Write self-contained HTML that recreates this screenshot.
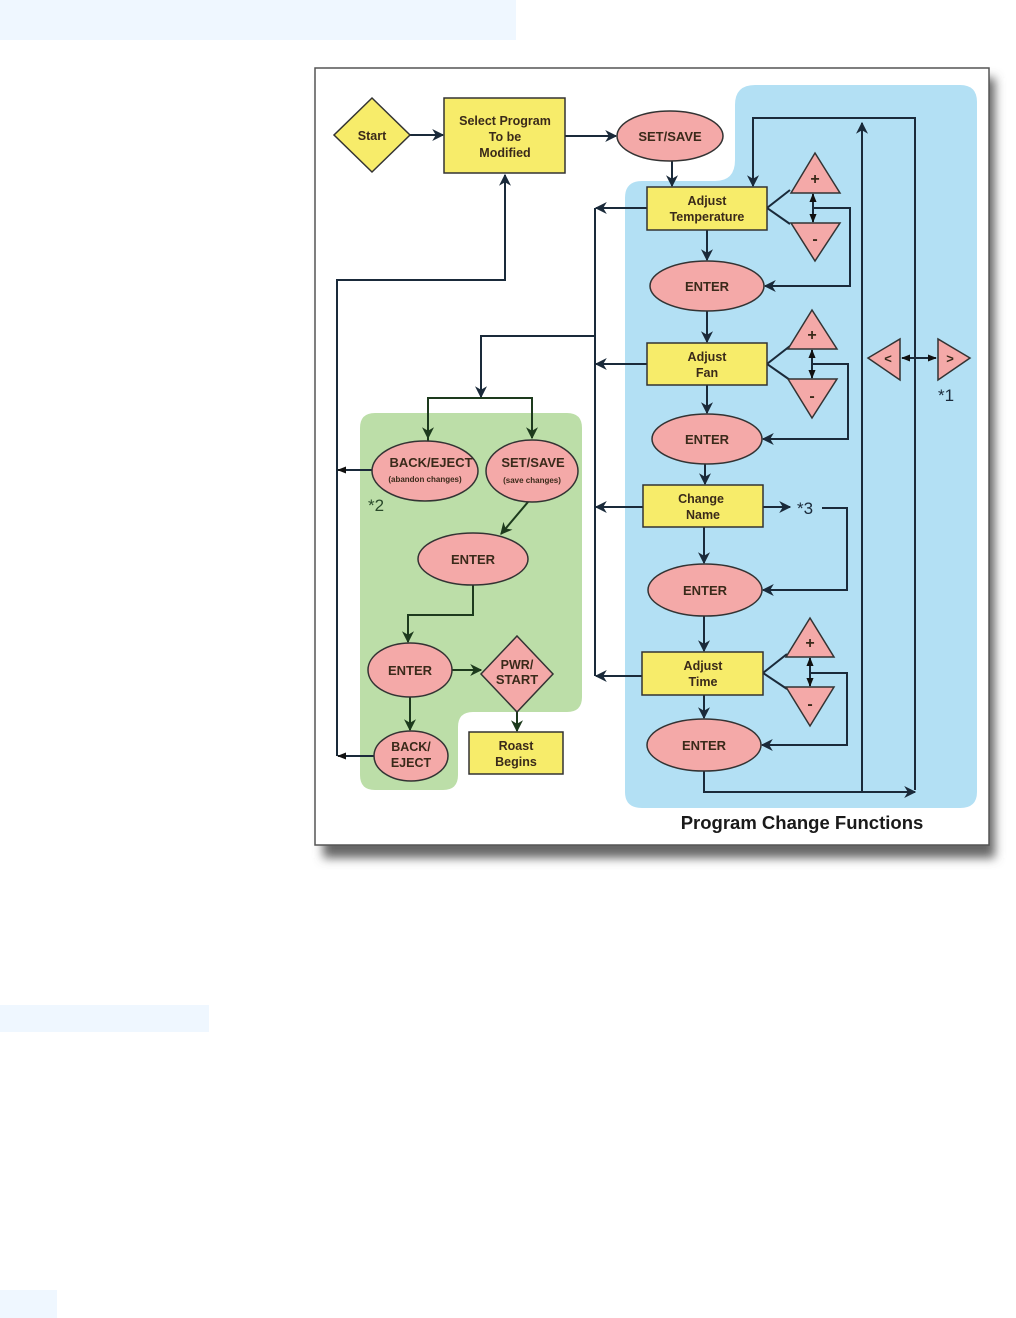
<!DOCTYPE html>
<html><head><meta charset="utf-8"><style>
html,body{margin:0;padding:0;background:#fff;}
svg{display:block;}
text{font-family:"Liberation Sans",sans-serif;font-weight:bold;fill:#3a2a1a;text-anchor:middle;}
</style></head><body>
<svg width="1016" height="1318" viewBox="0 0 1016 1318" xmlns="http://www.w3.org/2000/svg">
<defs>
<marker id="a" viewBox="0 0 10 10" refX="9" refY="5" markerWidth="12" markerHeight="12" orient="auto" markerUnits="userSpaceOnUse"><path d="M0,0 L10,5 L0,10 L3,5 Z" fill="#1a2a3a"/></marker>
<marker id="g" viewBox="0 0 10 10" refX="9" refY="5" markerWidth="12" markerHeight="12" orient="auto" markerUnits="userSpaceOnUse"><path d="M0,0 L10,5 L0,10 L3,5 Z" fill="#1d3a1d"/></marker>
<marker id="t" viewBox="0 0 10 10" refX="9" refY="5" markerWidth="9" markerHeight="9" orient="auto" markerUnits="userSpaceOnUse"><path d="M0,1 L10,5 L0,9 Z" fill="#111"/></marker>
<filter id="sh" x="-5%" y="-5%" width="115%" height="115%"><feGaussianBlur stdDeviation="5"/></filter>
</defs>
<rect x="0" y="0" width="516" height="40" fill="#eff7ff"/>
<rect x="0" y="1005" width="209" height="27" fill="#eff7ff"/>
<rect x="0" y="1290" width="57" height="28" fill="#eff7ff"/>
<rect x="323" y="78" width="672" height="780" fill="#666" filter="url(#sh)"/>
<rect x="315" y="68" width="674" height="777" fill="#fff" stroke="#555" stroke-width="1.5"/>
<path d="M755,85 H960 Q977,85 977,102 V792 Q977,808 960,808 H642 Q625,808 625,792 V198 Q625,181 642,181 H715 Q735,181 735,160 V105 Q735,85 755,85 Z" fill="#b3e0f4"/>
<path d="M375,413 H567 Q582,413 582,428 V697 Q582,712 567,712 H473 Q458,712 458,727 V775 Q458,790 443,790 H375 Q360,790 360,775 V428 Q360,413 375,413 Z" fill="#bcdea8"/>

<g stroke="#1a2a3a" stroke-width="2" fill="none">
<line x1="410" y1="135" x2="443" y2="135" marker-end="url(#a)"/>
<line x1="565" y1="136" x2="616" y2="136" marker-end="url(#a)"/>
<line x1="672" y1="161" x2="672" y2="186" marker-end="url(#a)"/>
<polyline points="337,756 337,280 505,280 505,175" marker-end="url(#a)"/>
<line x1="595" y1="208" x2="595" y2="676"/>
<line x1="647" y1="208" x2="596" y2="208" marker-end="url(#a)"/>
<line x1="647" y1="364" x2="596" y2="364" marker-end="url(#a)"/>
<line x1="643" y1="507" x2="596" y2="507" marker-end="url(#a)"/>
<line x1="642" y1="676" x2="596" y2="676" marker-end="url(#a)"/>
<polyline points="595,336 481,336 481,397" marker-end="url(#a)"/>
<line x1="707" y1="230" x2="707" y2="260" marker-end="url(#a)"/>
<line x1="707" y1="311" x2="707" y2="342" marker-end="url(#a)"/>
<line x1="707" y1="385" x2="707" y2="413" marker-end="url(#a)"/>
<line x1="705" y1="464" x2="705" y2="484" marker-end="url(#a)"/>
<line x1="704" y1="527" x2="704" y2="563" marker-end="url(#a)"/>
<line x1="704" y1="616" x2="704" y2="651" marker-end="url(#a)"/>
<line x1="704" y1="695" x2="704" y2="718" marker-end="url(#a)"/>
<polyline points="704,771 704,792 915,792" marker-end="url(#a)"/>
<line x1="862" y1="792" x2="862" y2="123" marker-end="url(#a)"/>
<polyline points="915,790 915,118 753,118 753,186" marker-end="url(#a)"/>
<polyline points="790,190 767,208 790,224"/>
<polyline points="813,208 850,208 850,286 765,286" marker-end="url(#a)"/>
<line x1="813" y1="208" x2="813" y2="194" marker-end="url(#t)"/>
<line x1="813" y1="208" x2="813" y2="222" marker-end="url(#t)"/>
<polyline points="790,346 767,364 790,380"/>
<polyline points="812,364 848,364 848,439 763,439" marker-end="url(#a)"/>
<line x1="812" y1="364" x2="812" y2="350" marker-end="url(#t)"/>
<line x1="812" y1="364" x2="812" y2="378" marker-end="url(#t)"/>
<line x1="763" y1="507" x2="790" y2="507" marker-end="url(#a)"/>
<polyline points="822,508 847,508 847,590 763,590" marker-end="url(#a)"/>
<polyline points="787,654 763,673 787,689"/>
<polyline points="810,673 847,673 847,745 762,745" marker-end="url(#a)"/>
<line x1="810" y1="673" x2="810" y2="658" marker-end="url(#t)"/>
<line x1="810" y1="673" x2="810" y2="686" marker-end="url(#t)"/>
<line x1="918" y1="358" x2="902" y2="358" marker-end="url(#t)"/>
<line x1="918" y1="358" x2="936" y2="358" marker-end="url(#t)"/>
<line x1="372" y1="470" x2="338" y2="470" marker-end="url(#t)"/>
<line x1="374" y1="756" x2="338" y2="756" marker-end="url(#t)"/>
</g>
<g stroke="#1d3a1d" stroke-width="2" fill="none">
<polyline points="428,446 428,398 532,398 532,438" marker-end="url(#g)"/>
<line x1="428" y1="398" x2="428" y2="438" marker-end="url(#g)"/>
<line x1="528" y1="502" x2="501" y2="534" marker-end="url(#g)"/>
<polyline points="473,585 473,615 408,615 408,642" marker-end="url(#g)"/>
<line x1="452" y1="670" x2="481" y2="670" marker-end="url(#g)"/>
<line x1="410" y1="697" x2="410" y2="730" marker-end="url(#g)"/>
<line x1="517" y1="711" x2="517" y2="731" marker-end="url(#g)"/>
</g>

<g stroke="#333" stroke-width="1.5">
<polygon points="372,98 410,135 372,172 334,135" fill="#f7ec6a"/>
<rect x="444" y="98" width="121" height="75" fill="#f7ec6a"/>
<ellipse cx="670" cy="136" rx="53" ry="25" fill="#f4a9a8"/>
<rect x="647" y="187" width="120" height="43" fill="#f7ec6a"/>
<polygon points="815,153 840,193 791,193" fill="#f4a9a8"/>
<polygon points="791,223 840,223 815,261" fill="#f4a9a8"/>
<ellipse cx="707" cy="286" rx="57" ry="25" fill="#f4a9a8"/>
<rect x="647" y="343" width="120" height="42" fill="#f7ec6a"/>
<polygon points="812,310 837,349 788,349" fill="#f4a9a8"/>
<polygon points="788,379 837,379 812,418" fill="#f4a9a8"/>
<ellipse cx="707" cy="439" rx="55" ry="25" fill="#f4a9a8"/>
<rect x="643" y="485" width="120" height="42" fill="#f7ec6a"/>
<ellipse cx="705" cy="590" rx="57" ry="26" fill="#f4a9a8"/>
<rect x="642" y="652" width="121" height="43" fill="#f7ec6a"/>
<polygon points="810,618 834,657 786,657" fill="#f4a9a8"/>
<polygon points="786,687 834,687 810,726" fill="#f4a9a8"/>
<ellipse cx="704" cy="745" rx="57" ry="26" fill="#f4a9a8"/>
<polygon points="868,358 900,339 900,380" fill="#f4a9a8"/>
<polygon points="938,339 938,380 970,358" fill="#f4a9a8"/>
<ellipse cx="425" cy="471" rx="53" ry="30" fill="#f4a9a8"/>
<ellipse cx="532" cy="471" rx="46" ry="31" fill="#f4a9a8"/>
<ellipse cx="473" cy="559" rx="55" ry="26" fill="#f4a9a8"/>
<ellipse cx="410" cy="670" rx="42" ry="27" fill="#f4a9a8"/>
<polygon points="517,636 553,674 517,712 481,674" fill="#f4a9a8"/>
<rect x="469" y="732" width="94" height="42" fill="#f7ec6a"/>
<ellipse cx="411" cy="756" rx="37" ry="25" fill="#f4a9a8"/>
</g>

<g font-size="12.5">
<text x="372" y="140">Start</text>
<text x="505" y="125">Select Program</text>
<text x="505" y="141">To be</text>
<text x="505" y="157">Modified</text>
<text x="670" y="141" font-size="13">SET/SAVE</text>
<text x="707" y="205">Adjust</text>
<text x="707" y="221">Temperature</text>
<text x="815" y="184" font-size="16">+</text>
<text x="815" y="244" font-size="16">-</text>
<text x="707" y="291" font-size="13">ENTER</text>
<text x="707" y="361">Adjust</text>
<text x="707" y="377">Fan</text>
<text x="812" y="340" font-size="16">+</text>
<text x="812" y="401" font-size="16">-</text>
<text x="707" y="444" font-size="13">ENTER</text>
<text x="701" y="503">Change</text>
<text x="703" y="519">Name</text>
<text x="705" y="595" font-size="13">ENTER</text>
<text x="703" y="670">Adjust</text>
<text x="703" y="686">Time</text>
<text x="810" y="648" font-size="16">+</text>
<text x="810" y="709" font-size="16">-</text>
<text x="704" y="750" font-size="13">ENTER</text>
<text x="888" y="363" font-size="13">&lt;</text>
<text x="950" y="363" font-size="13">&gt;</text>
<text x="431" y="467" font-size="13">BACK/EJECT</text>
<text x="425" y="482" font-size="8" font-weight="normal">(abandon changes)</text>
<text x="533" y="467" font-size="13">SET/SAVE</text>
<text x="532" y="483" font-size="8" font-weight="normal">(save changes)</text>
<text x="473" y="564" font-size="13">ENTER</text>
<text x="410" y="675" font-size="13">ENTER</text>
<text x="517" y="669">PWR/</text>
<text x="517" y="684" font-size="13">START</text>
<text x="516" y="750">Roast</text>
<text x="516" y="766">Begins</text>
<text x="411" y="751">BACK/</text>
<text x="411" y="767">EJECT</text>
</g>
<g font-size="17">
<text x="946" y="401" style="font-weight:normal;fill:#1a2a3a">*1</text>
<text x="376" y="511" style="font-weight:normal;fill:#2a4a2a">*2</text>
<text x="805" y="514" style="font-weight:normal;fill:#1a2a3a">*3</text>
</g>
<text x="802" y="829" font-size="18.5" style="fill:#1a1a1a">Program Change Functions</text>
</svg>
</body></html>
